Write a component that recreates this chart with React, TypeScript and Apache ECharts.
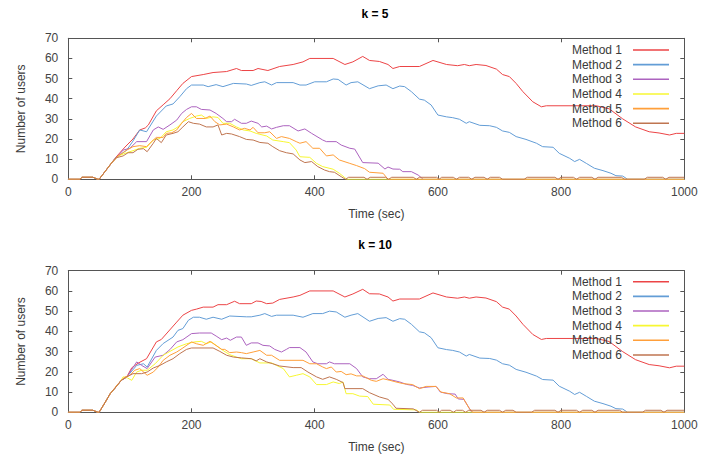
import React, { useEffect, useRef } from "react";
import * as echarts from "echarts";

type P = [number, number];

const methodNames = ["Method 1", "Method 2", "Method 3", "Method 4", "Method 5", "Method 6"];
const methodColors = ["#ec4446", "#639dd6", "#ac63bf", "#f7f732", "#ff9f3a", "#bf7550"];
const panelTitles = ["k = 5", "k = 10"];
const xAxisName = "Time (sec)";
const yAxisName = "Number of users";
const xRange = { min: 0, max: 1000, interval: 200 };
const yRange = { min: 0, max: 70, interval: 10 };

// common starting segment
const startA: P[] = [[0, 0], [19, 0], [22, 1], [40, 1], [48, 0], [50, 0], [60, 4], [70, 8]];
const startB: P[] = [[0, 0], [19, 0], [22, 1], [40, 1], [48, 0], [50, 0], [60, 5], [68, 9.2], [76, 12], [86, 15.8]];

// Methods 1 and 2 late part (identical in both panels)
const m1Late: P[] = [[505, 58.5], [519, 57], [527, 55], [538, 56], [570, 56], [592, 59], [614, 57], [632, 56.4], [643, 57], [651, 56.4], [662, 57], [678, 56.5], [695, 54.7], [705, 52], [716, 51], [727, 47.6], [738, 43.5], [754, 38.5], [768, 36], [776, 36.5], [857, 36.5], [878, 35], [900, 30], [921, 26], [943, 23.6], [959, 23], [976, 22], [987, 22.8], [1000, 22.8]];
const m2Late: P[] = [[503, 46.4], [516, 46.8], [527, 45], [538, 46.3], [546, 46], [557, 43.5], [570, 39.8], [578, 39.3], [589, 36.9], [600, 31.9], [614, 31], [624, 30.6], [635, 29.8], [646, 27.8], [651, 28.6], [668, 26.8], [684, 26.6], [695, 25.8], [705, 24], [716, 23.3], [727, 21.2], [743, 19.8], [760, 17.9], [770, 16.2], [787, 15.9], [797, 12.9], [814, 10.4], [822, 8.8], [830, 9.9], [841, 7.9], [854, 5.5], [868, 4.3], [881, 3], [889, 1.8], [900, 1.6], [908, 0], [1000, 0]];

// ---- k = 5 ----
const k5m1: P[] = [...startA, [76, 10.5], [92, 16], [105, 20], [116, 24.5], [125, 25.5], [130, 27], [143, 34], [154, 37], [165, 40], [176, 44], [186, 47.6], [200, 51], [219, 52], [235, 53], [257, 53.5], [273, 55], [281, 54], [300, 54], [308, 55], [324, 54], [343, 56], [365, 57], [381, 58.3], [392, 60], [430, 60], [449, 57], [462, 58.3], [478, 61], [489, 59], ...m1Late];
const k5m2: P[] = [...startA, [76, 10.4], [95, 14.5], [105, 19], [116, 24.5], [127, 23.6], [143, 31.4], [159, 36.4], [170, 37.4], [181, 41], [192, 45], [200, 46.8], [219, 46.8], [227, 46], [240, 47], [251, 46], [268, 47.6], [289, 47.3], [297, 46.6], [311, 48], [319, 48.4], [330, 46.8], [338, 48], [365, 48], [376, 46.8], [386, 46.8], [400, 48.4], [419, 48.4], [430, 49.8], [438, 49.6], [451, 46.8], [459, 48], [470, 48.4], [489, 45], ...m2Late];
const k5m3: P[] = [...startA, [78, 10.7], [89, 14.5], [100, 15.4], [111, 18.7], [127, 18.7], [138, 24.5], [146, 26], [154, 24.8], [165, 27], [176, 29.4], [184, 32.7], [192, 34.7], [200, 36], [208, 36], [216, 34.7], [230, 34.4], [240, 32.7], [251, 30.2], [257, 28.6], [265, 28.6], [270, 29.8], [281, 27.8], [289, 27.8], [297, 28.9], [308, 27.8], [314, 26], [322, 26.4], [330, 25], [338, 25.8], [349, 26.6], [359, 26.6], [373, 24], [384, 25], [395, 22.8], [413, 19.5], [419, 18.7], [435, 18.7], [443, 17], [457, 15.4], [465, 15], [478, 8.3], [503, 8], [514, 5.1], [519, 6.1], [527, 5.1], [538, 5], [543, 3.8], [557, 3.8], [568, 2.1], [576, 0], [1000, 0]];
const k5m4: P[] = [...startA, [81, 11.6], [95, 13.2], [105, 14.2], [116, 15.4], [127, 15.9], [138, 19.5], [149, 20.3], [159, 23.6], [170, 24.5], [178, 26], [186, 28.6], [197, 30.2], [208, 31.4], [216, 31.9], [224, 30.2], [235, 31], [243, 30.7], [251, 27.8], [262, 27.8], [273, 26], [284, 24.5], [295, 24], [305, 22.8], [322, 21.5], [332, 19.5], [349, 18.7], [359, 18.2], [370, 14.5], [376, 11.2], [392, 10.9], [403, 7.9], [413, 6.3], [430, 5], [440, 3], [449, 0.8], [452, 0], [1000, 0]];
const k5m5: P[] = [...startA, [81, 11.6], [95, 14.5], [105, 16.2], [116, 16.7], [127, 16.2], [138, 19.5], [143, 20.8], [154, 20.8], [159, 22.8], [168, 23.1], [176, 24.5], [184, 27.8], [192, 30.7], [200, 32.7], [208, 30.2], [222, 30.2], [230, 31.4], [238, 28.6], [246, 27], [257, 27.4], [268, 26], [278, 24.5], [286, 25.3], [295, 24.5], [300, 25.8], [308, 23.1], [319, 23.1], [327, 23.6], [338, 20.3], [346, 21.2], [359, 20.3], [370, 18.7], [376, 17.9], [386, 18.7], [397, 15.4], [408, 15.4], [419, 11.6], [430, 12.1], [440, 9.6], [457, 7.9], [468, 6.8], [481, 5.3], [489, 3.5], [511, 3], [519, 0], [1000, 0]];
const k5m6: P[] = [...startA, [78, 10.7], [89, 11.6], [97, 13.2], [105, 13.2], [113, 14.9], [122, 15.2], [128, 13.7], [138, 17.9], [143, 20.3], [151, 18.2], [159, 22], [170, 22.8], [178, 23.6], [186, 26], [195, 28.6], [203, 27.8], [213, 27.4], [224, 26], [235, 26], [243, 27], [249, 22], [257, 22.8], [265, 22.5], [278, 21.2], [289, 19.8], [300, 19.5], [311, 18.3], [324, 17.9], [332, 16.2], [343, 14.2], [354, 13.2], [365, 12.6], [376, 9.6], [384, 8.3], [395, 8.8], [405, 6.3], [416, 4.6], [424, 3.8], [432, 3.5], [443, 1.3], [450, 0],
  [455, 1], [480, 1], [485, 0], [490, 1], [515, 1], [520, 0], [525, 1], [560, 1], [565, 0], [570, 1], [598, 1], [602, 0], [606, 1], [625, 1], [630, 0], [635, 1], [650, 1], [655, 0], [660, 1], [675, 1], [680, 0], [685, 1], [700, 1], [705, 0], [740, 0], [745, 1], [790, 1], [795, 0], [800, 1], [820, 1], [825, 0], [830, 1], [850, 1], [855, 0], [860, 1], [898, 1], [903, 0], [935, 0], [940, 1], [965, 1], [970, 0], [975, 1], [1000, 1]];

// ---- k = 10 ----
const k10m1: P[] = [...startB, [95, 17.5], [103, 22], [114, 24.4], [127, 26.5], [143, 34.8], [151, 36], [176, 44.6], [186, 48], [200, 50.4], [208, 51], [219, 52], [235, 52], [243, 53.2], [257, 53.2], [270, 54.9], [278, 53.7], [297, 53.7], [305, 55], [313, 54.8], [322, 53.7], [332, 54], [343, 55.8], [365, 57], [376, 57.8], [392, 60], [430, 60], [449, 57], [462, 58.5], [478, 60.8], [489, 58.6], ...m1Late];
const k10m2: P[] = [...startB, [95, 17.5], [111, 23.2], [122, 24], [128, 22.4], [143, 30.6], [154, 34], [170, 37.2], [178, 40.5], [186, 41.4], [195, 45.5], [203, 47], [213, 47], [224, 46], [235, 47], [249, 46], [262, 47.6], [289, 47.2], [297, 47.2], [311, 48], [319, 48.8], [330, 47.4], [338, 48], [365, 48], [381, 47], [397, 48.8], [413, 48.8], [424, 50], [435, 49.6], [449, 47], [459, 48], [470, 48.8], [489, 45], ...m2Late];
const k10m3: P[] = [...startB, [95, 17.5], [111, 24.9], [119, 23.2], [128, 21.6], [141, 27.3], [154, 28.2], [165, 31], [176, 34.8], [186, 35.9], [200, 38.9], [213, 39.2], [232, 39.2], [240, 37.7], [249, 35.9], [257, 36.7], [263, 35.6], [273, 37.2], [281, 37.2], [289, 33.1], [297, 34.3], [308, 34.3], [316, 33.1], [327, 32.8], [335, 31.1], [346, 29.8], [354, 31.1], [359, 32], [376, 32], [386, 29.8], [397, 24.9], [405, 24], [419, 24], [424, 24.9], [432, 24], [457, 24], [468, 21.6], [478, 17.5], [489, 16.6], [500, 16.6], [511, 18.8], [519, 16.3], [527, 15.8], [538, 15], [549, 13.8], [559, 13.3], [570, 12], [584, 12.5], [597, 12.8], [604, 10], [616, 9.2], [628, 9], [633, 6.6], [642, 6.4], [650, 2.5], [655, 0], [1000, 0]];
const k10m4: P[] = [...startB, [89, 17.5], [96, 17], [103, 15.8], [111, 19.9], [119, 20.8], [128, 20.8], [141, 24], [154, 28.2], [165, 30.1], [178, 32.3], [192, 33.9], [205, 34.8], [216, 35.1], [224, 33.9], [232, 34.8], [240, 33.1], [251, 30.6], [262, 28.5], [273, 27.3], [281, 26.5], [297, 26.5], [311, 24.4], [330, 24.4], [338, 23.2], [349, 21.6], [359, 17.5], [370, 18.3], [381, 19.1], [392, 17.5], [403, 13.7], [419, 13.7], [430, 15], [440, 14.2], [446, 15], [451, 9.2], [462, 9.2], [473, 8], [486, 7.8], [495, 4], [522, 3.6], [528, 1.5], [565, 1.2], [570, 0], [1000, 0]];
const k10m5: P[] = [[0, 0], [19, 0], [22, 1], [40, 1], [48, 0], [50, 0], [60, 5], [68, 9.2], [81, 14.2], [92, 17.5], [100, 18.3], [108, 20.8], [116, 21.6], [128, 18.3], [138, 19.9], [146, 22.4], [154, 25.7], [165, 28.2], [176, 29.8], [186, 31.8], [200, 34.8], [208, 33.9], [219, 33.1], [230, 35.1], [238, 33.4], [249, 31.1], [254, 31.1], [262, 29.5], [273, 29.8], [281, 29.5], [289, 29], [300, 29.8], [311, 30.6], [322, 28.2], [330, 28.2], [343, 25.7], [381, 25.7], [392, 24], [403, 24], [413, 22.4], [419, 21.6], [427, 22.4], [435, 19.9], [443, 20.2], [451, 18.6], [459, 19], [468, 18], [478, 18], [492, 15.8], [500, 15.3], [511, 16.6], [522, 15.8], [532, 15], [543, 14.2], [559, 13.7], [570, 11.7], [581, 12.8], [597, 12.8], [605, 10], [619, 9.2], [630, 7.1], [641, 7.1], [651, 1.8], [657, 0], [1000, 0]];
const k10m6: P[] = [...startB, [95, 17.5], [105, 19.1], [119, 19.1], [128, 19.9], [138, 21.9], [149, 23.2], [159, 24.9], [170, 26.5], [181, 29], [192, 31.1], [200, 31.8], [235, 31.8], [246, 30.1], [257, 28.2], [268, 27.3], [281, 26.9], [297, 26.5], [305, 25.4], [311, 26.5], [322, 24.9], [332, 24], [343, 22.9], [365, 22.1], [378, 22.1], [389, 19.9], [403, 17.5], [413, 16.3], [424, 17.5], [435, 16.3], [446, 14.7], [449, 11.7], [478, 11.7], [489, 9.7], [505, 7.6], [519, 6.4], [527, 4], [532, 2], [560, 1.7], [570, 0],
  [575, 1], [598, 1], [602, 0], [606, 1], [620, 1], [625, 0], [630, 1], [640, 1], [645, 0], [650, 1], [670, 1], [675, 0], [680, 1], [700, 1], [705, 0], [710, 1], [722, 1], [727, 0], [752, 0], [757, 1], [790, 1], [795, 0], [800, 1], [825, 1], [830, 0], [835, 1], [850, 1], [855, 0], [860, 1], [895, 1], [900, 0], [932, 0], [937, 1], [962, 1], [967, 0], [972, 1], [1000, 1]];

const panelSeries: P[][][] = [
  [k5m1, k5m2, k5m3, k5m4, k5m5, k5m6],
  [k10m1, k10m2, k10m3, k10m4, k10m5, k10m6],
];

const FONT = "'Liberation Sans', Arial, Helvetica, sans-serif";
const AXIS_COLOR = "#555";
const TEXT_COLOR = "#3a3a3a";

const gridBoxes = [
  { left: 68.3, top: 38.3, width: 616, height: 141 },
  { left: 68.3, top: 270.7, width: 616, height: 141.6 },
];

function buildOption() {
  const xAxes: any[] = [];
  const yAxes: any[] = [];
  const series: any[] = [];
  gridBoxes.forEach((_, g) => {
    const common = {
      type: "value",
      gridIndex: g,
      splitLine: { show: false },
      axisLine: { show: true, onZero: false, lineStyle: { color: AXIS_COLOR, width: 1 } },
      axisTick: { show: true, inside: true, length: 4, lineStyle: { color: AXIS_COLOR } },
    };
    xAxes.push({
      ...common,
      ...xRange,
      position: "bottom",
      name: xAxisName,
      nameLocation: "middle",
      nameGap: 29,
      nameTextStyle: { color: TEXT_COLOR, fontSize: 12, fontFamily: FONT },
      axisLabel: {
        color: "#444",
        fontSize: 12,
        fontFamily: FONT,
        margin: 7,
        formatter: (v: number) => String(v),
      },
    });
    xAxes.push({ ...common, ...xRange, position: "top", axisLabel: { show: false } });
    yAxes.push({
      ...common,
      ...yRange,
      position: "left",
      name: yAxisName,
      nameLocation: "middle",
      nameGap: 41,
      nameTextStyle: { color: TEXT_COLOR, fontSize: 12, fontFamily: FONT },
      axisLabel: { color: "#444", fontSize: 12, fontFamily: FONT, margin: 10 },
    });
    yAxes.push({ ...common, ...yRange, position: "right", axisLabel: { show: false } });
    panelSeries[g].forEach((data, i) => {
      series.push({
        type: "line",
        name: methodNames[i],
        xAxisIndex: g * 2,
        yAxisIndex: g * 2,
        data,
        symbol: "none",
        itemStyle: { color: methodColors[i] },
        lineStyle: { width: 1, color: methodColors[i] },
        z: 2 + i,
      });
    });
  });
  const legendTops = [43, 274.7];
  return {
    animation: false,
    backgroundColor: "#ffffff",
    title: panelTitles.map((t, i) => ({
      text: t,
      left: 375,
      textAlign: "center",
      top: i === 0 ? 8 : 239,
      padding: 0,
      textStyle: { fontSize: 12, fontWeight: "bold", color: "#000", fontFamily: FONT },
    })),
    grid: gridBoxes.map((b) => ({ ...b, containLabel: false })),
    legend: legendTops.map((top) => ({
      data: methodNames,
      orient: "vertical",
      right: 41,
      top,
      align: "right",
      padding: 0,
      itemGap: 0.65,
      itemWidth: 36,
      itemHeight: 14,
      icon: "path://M0,0L36,0L36,1.6L0,1.6Z",
      symbolKeepAspect: true,
      selectedMode: false,
      textStyle: { fontSize: 12, color: TEXT_COLOR, fontFamily: FONT, lineHeight: 14, padding: [0, 6, 0, 0] },
    })),
    xAxis: xAxes,
    yAxis: yAxes,
    series,
  };
}

export default function App() {
  const ref = useRef<HTMLDivElement>(null);
  useEffect(() => {
    if (!ref.current) return;
    const chart = echarts.init(ref.current, undefined, { renderer: "svg" });
    chart.setOption(buildOption() as any);
    return () => chart.dispose();
  }, []);
  return (
    <div
      ref={ref}
      style={{ position: "fixed", left: 0, top: 0, width: 710, height: 457, background: "#fff" }}
    />
  );
}
